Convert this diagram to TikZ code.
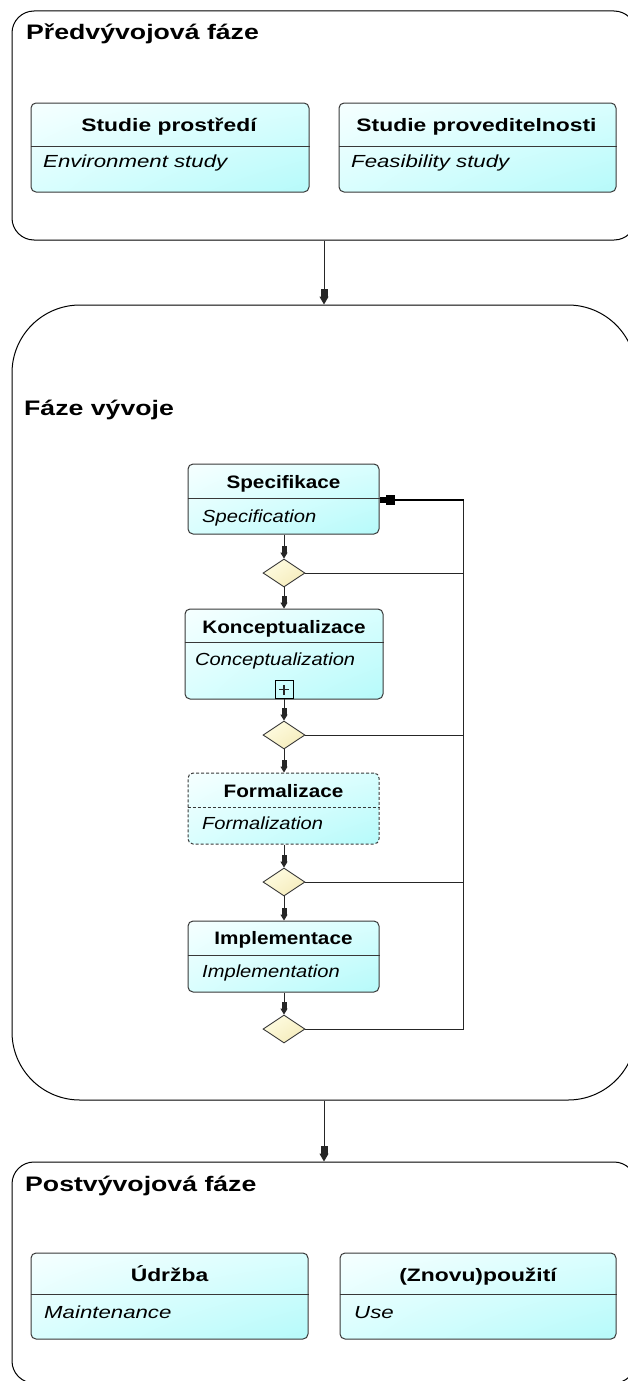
\documentclass[tikz,border=0pt]{standalone}
\usepackage{fontspec}
\setmainfont{Liberation Sans}
% wide face for the outer phases, slightly narrower one for the development loop
\newfontfamily\outerfont[FakeStretch=1.27]{Liberation Sans}
\newfontfamily\innerfont[FakeStretch=1.15]{Liberation Sans}
\usetikzlibrary{arrows.meta,shapes.geometric,shadings}

\definecolor{boxline}{HTML}{383838}
\definecolor{cyanA}{HTML}{F6FFFF}
\definecolor{cyanB}{HTML}{D9FEFE}
\definecolor{cyanC}{HTML}{B6FAFA}
\definecolor{dmdA}{HTML}{FFFEE8}
\definecolor{dmdB}{HTML}{FBF5CF}
\definecolor{dmdC}{HTML}{F2E8B4}

\tikzset{
  phase/.style={draw=black, line width=1pt, rounded corners=#1, inner sep=0pt},
  activity/.style={draw=boxline, line width=1pt, rounded corners=5pt, inner sep=0pt,
    upper left=cyanA, upper right=cyanB, lower left=cyanB, lower right=cyanC},
  optional/.style={activity, dash pattern=on 3pt off 2pt},
  divider/.style={draw=boxline, line width=1pt},
  gate/.style={diamond, draw=boxline, line width=0.9pt, inner sep=0pt, aspect=1.5,
    minimum width=42pt, minimum height=28pt,
    upper left=dmdA, upper right=dmdB, lower left=dmdB, lower right=dmdC},
  line/.style={draw=black!85, line width=1pt},
  flow/.style={line, -{Rectangle[length=7pt,width=5pt]Triangle[length=6pt,width=7pt]}},
  bigflow/.style={line, -{Rectangle[length=8pt,width=7pt]Triangle[length=8pt,width=9pt]}},
  backflow/.style={draw=black, line width=2pt, -{Rectangle[length=9pt,width=10pt]Rectangle[length=6pt,width=6pt]}},
  outertitle/.style={anchor=base west, inner sep=0pt, font=\outerfont\bfseries\fontsize{21}{24}\selectfont},
  outerhead/.style={anchor=base, inner sep=0pt, font=\outerfont\bfseries\fontsize{18}{20}\selectfont},
  outerbody/.style={anchor=base west, inner sep=0pt, font=\outerfont\itshape\fontsize{17.5}{20}\selectfont},
  innerhead/.style={anchor=base, inner sep=0pt, font=\innerfont\bfseries\fontsize{18}{20}\selectfont},
  innerbody/.style={anchor=base west, inner sep=0pt, font=\innerfont\itshape\fontsize{17.5}{20}\selectfont},
}

\begin{document}
\begin{tikzpicture}[x=1pt, y=-1pt]
\useasboundingbox (0,0) rectangle (627,1381);

% ---- phase containers ----
\node[phase=22pt, minimum width=624pt, minimum height=229pt] (pre) at (324,125.5) {};
\node[phase=68pt, minimum width=624pt, minimum height=795pt] (dev) at (324,702.5) {};
\node[phase=22pt, minimum width=624pt, minimum height=221pt] (post) at (324,1272.5) {};

\node[outertitle] (preT) at (26,39.5) {Předvývojová fáze};
\node[outertitle] (devT) at (24,415) {Fáze vývoje};
\node[outertitle] (postT) at (25,1191) {Postvývojová fáze};

\draw[bigflow] (pre.south) -- (dev.north);
\draw[bigflow] (dev.south) -- (post.north);

% ---- pre-development activities ----
\node[activity, minimum width=278pt, minimum height=89pt] (envb) at (170,147.5) {};
\draw[divider] (envb.west |- 0,146) -- (envb.east |- 0,146);
\node[outerhead] (envbH) at (169,131) {Studie prostředí};
\node[outerbody] (envbB) at (43,167) {Environment study};

\node[activity, minimum width=277pt, minimum height=89pt] (feas) at (477.5,147.5) {};
\draw[divider] (feas.west |- 0,146) -- (feas.east |- 0,146);
\node[outerhead] (feasH) at (476.5,131) {Studie proveditelnosti};
\node[outerbody] (feasB) at (351,167) {Feasibility study};

% ---- development loop ----
\node[activity, minimum width=191pt, minimum height=70pt] (spec) at (283.5,499) {};
\draw[divider] (spec.west |- 0,498) -- (spec.east |- 0,498);
\node[innerhead] (specH) at (283.5,488) {Specifikace};
\node[innerbody] (specB) at (202,522) {Specification};

\node[gate] (d1) at (284,573) {};

\node[activity, minimum width=198pt, minimum height=90pt] (konc) at (284,654) {};
\draw[divider] (konc.west |- 0,642) -- (konc.east |- 0,642);
\node[innerhead] (koncH) at (284,633) {Konceptualizace};
\node[innerbody] (koncB) at (195,665) {Conceptualization};
\node[draw=black, line width=1pt, minimum size=18pt, inner sep=0pt] (plus) at (284,689.5) {};
\draw[line, line width=1.3pt] ([xshift=-5pt]plus.center) -- ([xshift=5pt]plus.center);
\draw[line, line width=1.3pt] ([yshift=-5pt]plus.center) -- ([yshift=5pt]plus.center);

\node[gate] (d2) at (284,735) {};

\node[optional, minimum width=191pt, minimum height=71pt] (form) at (283.5,808.5) {};
\draw[divider, dash pattern=on 3pt off 2pt] (form.west |- 0,807) -- (form.east |- 0,807);
\node[innerhead] (formH) at (283.5,797) {Formalizace};
\node[innerbody] (formB) at (202,829) {Formalization};

\node[gate] (d3) at (284,882) {};

\node[activity, minimum width=191pt, minimum height=71pt] (impl) at (283.5,956.5) {};
\draw[divider] (impl.west |- 0,955) -- (impl.east |- 0,955);
\node[innerhead] (implH) at (283.5,944) {Implementace};
\node[innerbody] (implB) at (202,977) {Implementation};

\node[gate] (d4) at (284,1029) {};

\draw[flow] (spec.south -| d1.north) -- (d1.north);
\draw[flow] (d1.south) -- (konc.north);
\draw[flow] (plus.south) -- (d2.north);
\draw[flow] (d2.south) -- (form.north -| d2.south);
\draw[flow] (form.south -| d3.north) -- (d3.north);
\draw[flow] (d3.south) -- (impl.north -| d3.south);
\draw[flow] (impl.south -| d4.north) -- (d4.north);

% return path to the specification
\coordinate (loopT) at (463,500);
\coordinate (loopB) at (463,1029);
\draw[line] (d4.east) -- (loopB) -- (loopT);
\draw[line] (d1.east) -- (d1.east -| loopT);
\draw[line] (d2.east) -- (d2.east -| loopT);
\draw[line] (d3.east) -- (d3.east -| loopT);
\draw[backflow] ([xshift=0.5pt]loopT) -- (spec.east |- loopT);

% ---- post-development activities ----
\node[activity, minimum width=277pt, minimum height=86pt] (udrz) at (169.5,1296) {};
\draw[divider] (udrz.west |- 0,1294) -- (udrz.east |- 0,1294);
\node[outerhead] (udrzH) at (169.5,1281) {Údržba};
\node[outerbody] (udrzB) at (44,1318) {Maintenance};

\node[activity, minimum width=276pt, minimum height=86pt] (reuse) at (478,1296) {};
\draw[divider] (reuse.west |- 0,1294) -- (reuse.east |- 0,1294);
\node[outerhead] (reuseH) at (478,1281) {(Znovu)použití};
\node[outerbody] (reuseB) at (354,1318) {Use};
\end{tikzpicture}
\end{document}
